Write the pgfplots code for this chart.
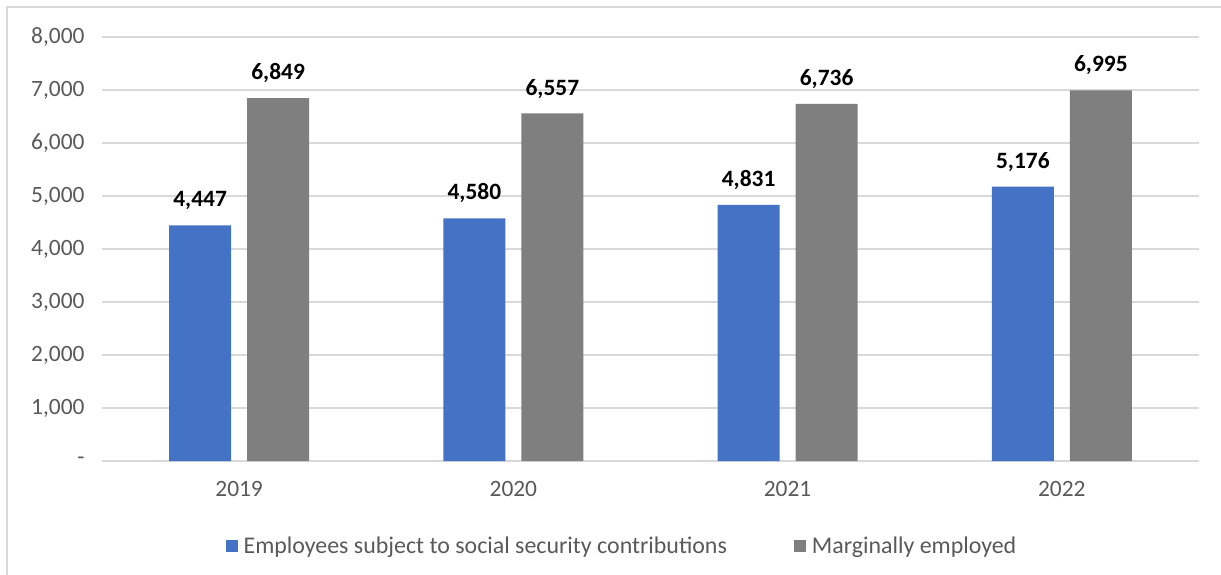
\documentclass[border=0pt]{standalone}
\usepackage{pgfplots}
\pgfplotsset{compat=1.18}
\usepackage{fontspec}
\setmainfont{Carlito}
\definecolor{barblue}{HTML}{4472C4}
\definecolor{bargray}{HTML}{7F7F7F}
\definecolor{gridgray}{HTML}{D9D9D9}
\definecolor{txtgray}{HTML}{595959}
\begin{document}
\begin{tikzpicture}
\path[use as bounding box] (0,0) rectangle (1221bp,575bp);
\draw[gridgray, line width=1.2bp] (7bp,0) -- (7bp,568bp) -- (1221bp,568bp);
\begin{axis}[
  at={(102bp,114bp)}, anchor=south west,
  scale only axis, width=1097bp, height=424bp,
  xmin=-0.5, xmax=3.5, ymin=0, ymax=8000,
  axis line style={draw=none},
  major tick length=0pt,
  ymajorgrids, grid style={gridgray, line width=1.2bp},
  ytick={0,1000,2000,3000,4000,5000,6000,7000,8000},
  yticklabels={-,{1,000},{2,000},{3,000},{4,000},{5,000},{6,000},{7,000},{8,000}},
  xtick={0,1,2,3},
  xticklabels={2019,2020,2021,2022},
  tick label style={font=\fontsize{23.5}{28}\selectfont, text=txtgray},
  yticklabel style={xshift=-14bp},
  xticklabel style={yshift=-17bp},
  ybar=0pt, bar width=62bp,
  /pgf/number format/.cd, 1000 sep={,}, assume math mode=true, /pgfplots/.cd,
  nodes near coords,
  nodes near coords style={font=\bfseries\fontsize{23.5}{28}\selectfont, text=black, inner sep=0pt, yshift=15bp},
  legend style={at={(0.474,-0.2)}, anchor=center, draw=none, fill=none,
    font=\fontsize{24}{28}\selectfont, text=txtgray, legend columns=2,
    /tikz/every even column/.append style={column sep=65bp}},
  legend cell align=left,
  legend image code/.code={\fill[#1,draw=none] (0bp,-6bp) rectangle (12bp,6bp); \path (0bp,0bp) -- (16bp,0bp);},
]
\addplot[fill=barblue, draw=none, bar shift=-39bp] coordinates {(0,4447) (1,4580) (2,4831) (3,5176)};
\addplot[fill=bargray, draw=none, bar shift=39bp] coordinates {(0,6849) (1,6557) (2,6736) (3,6995)};
\legend{Employees subject to social security contributions, Marginally employed}
\end{axis}
\end{tikzpicture}
\end{document}
